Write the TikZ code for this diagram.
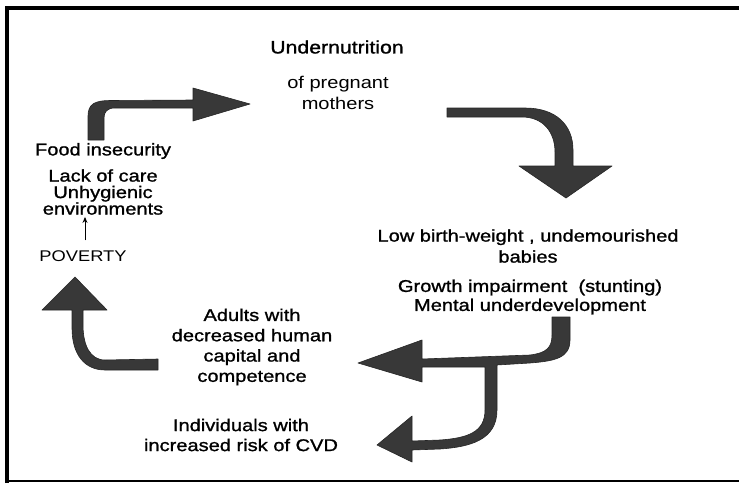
\documentclass[tikz,border=0pt]{standalone}
\usepackage{fontspec}
\usetikzlibrary{arrows.meta}
\setmainfont{Liberation Sans}[FakeStretch=1.18]
\newfontfamily\medfont{Liberation Sans}[FakeStretch=1.18,FakeBold=1.2]
\begin{document}
\begin{tikzpicture}[x=1pt,y=-1pt,
  lbl/.style={align=center,inner sep=0pt,font=\medfont\fontsize{17}{20}\selectfont},
  plain/.style={align=center,inner sep=0pt,font=\fontsize{17}{21.5}\selectfont},
  blockarrow/.style={fill=black!78,draw=black!85,line width=0.6pt,line join=round},
  frameline/.style={draw=black,line cap=butt}]
\useasboundingbox (0,0) rectangle (739,483);
% frame
\draw[frameline,line width=4pt] (7,483) -- (7,8) -- (739,8);
\draw[frameline,line width=1.5pt] (5,481) -- (739,481);

% texts
\node[lbl,font=\medfont\fontsize{18}{20}\selectfont] (under) at (337,47) {Undernutrition};
\node[plain] (preg) at (338,93) {of pregnant\\mothers};
\node[lbl] (food) at (103,151) {Food insecurity};
\node[lbl,font=\medfont\fontsize{17}{16.5}\selectfont] (env) at (103,192) {Lack of care\\Unhygienic\\environments};
\node[plain,font=\fontsize{15.5}{18}\selectfont] (pov) at (83,256) {POVERTY};
\node[lbl,font=\medfont\fontsize{17}{21}\selectfont] (lbw) at (528,246) {Low birth-weight , undemourished\\babies};
\node[lbl,font=\medfont\fontsize{17}{19}\selectfont] (growth) at (530,297) {Growth impairment\ \ (stunting)\\Mental underdevelopment};
\node[lbl,font=\medfont\fontsize{17}{20.3}\selectfont] (adults) at (252,347) {Adults with\\decreased human\\capital and\\competence};
\node[lbl] (indiv) at (241,435) {Individuals with\\increased risk of CVD};

% small arrow poverty -> environments
\draw[line width=1pt,shorten <=10pt,shorten >=2pt,-{Stealth[length=6pt,width=5pt]}] ([xshift=2pt]pov.north) -- ([xshift=2pt]pov.north |- env.south) ;

% arrow A: food insecurity -> undernutrition
\path[blockarrow] (88,140) -- (88,116) .. controls (88,104) and (95,100.5) .. (110,100.5) -- (193,100) -- (193,88) -- (250,104) -- (193,121) -- (193,108) -- (115,108) .. controls (107,108) and (104,112) .. (104,118) -- (104,140) -- cycle;

% arrow B: undernutrition -> low birth weight
\path[blockarrow] (447,108) -- (525,108) .. controls (556,108) and (573,125) .. (573,150) -- (573,166) -- (612,166) -- (566,198) -- (519,166) -- (555,166) -- (555,152) .. controls (555,132) and (543,117) .. (522,117) -- (447,117) -- cycle;

% arrow C: growth -> adults and individuals
\path[blockarrow] (552,317) -- (570,317) -- (570,340) .. controls (570,358) and (555,361) .. (530,363) -- (497,365) -- (497,410) .. controls (497,440) and (470,447) .. (440,449) -- (412,450) -- (412,462) -- (377,445) -- (412,416) -- (412,441) -- (440,440) .. controls (468,438) and (485,432) .. (485,410) -- (485,367) -- (422,367) -- (422,382) -- (358,363) -- (422,340) -- (422,359) -- (530,355) .. controls (546,353) and (552,348) .. (552,335) -- cycle;

% arrow D: adults -> poverty
\path[blockarrow] (158,359) -- (105,360) .. controls (90,360) and (83,345) .. (83,325) -- (83,310) -- (107,310) -- (75,277) -- (42,310) -- (72,310) -- (72,328) .. controls (72,355) and (85,370) .. (105,370) -- (158,370) -- cycle;
\end{tikzpicture}
\end{document}
